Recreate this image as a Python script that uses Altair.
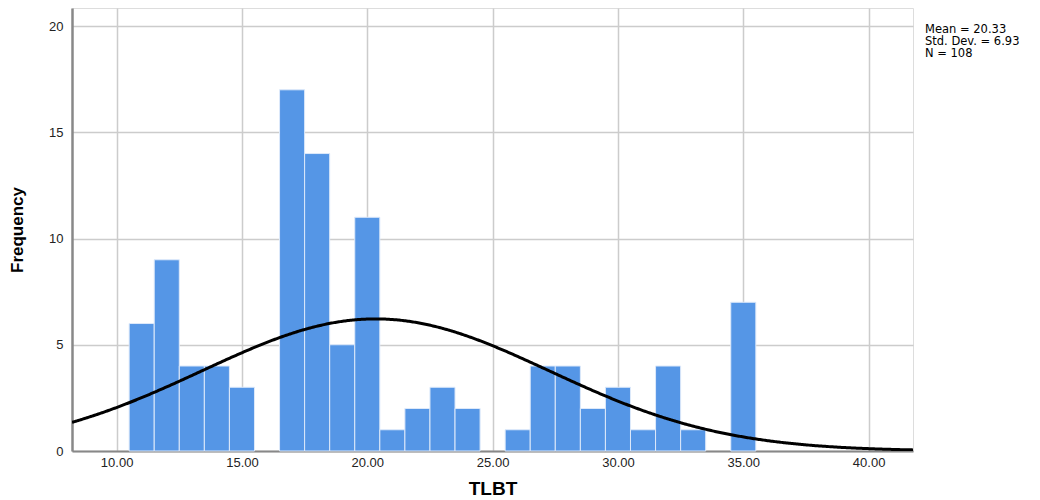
import altair as alt
import pandas as pd

# Histogram bins (centers) and frequencies
bin_centers = [11, 12, 13, 14, 15, 16, 17, 18, 19, 20, 21, 22, 23, 24, 25,
               26, 27, 28, 29, 30, 31, 32, 33, 34, 35]
frequencies = [6, 9, 4, 4, 3, 0, 17, 14, 5, 11, 1, 2, 3, 2, 0,
               1, 4, 4, 2, 3, 1, 4, 1, 0, 7]
stats_lines = ["Mean = 20.33", "Std. Dev. = 6.93", "N = 108"]
mean_val = 20.33
sd_val = 6.93
n_val = 108
x_ticks = [10, 15, 20, 25, 30, 35, 40]
y_ticks = [0, 5, 10, 15, 20]

bars_df = pd.DataFrame({
    "start": [c - 0.5 for c in bin_centers],
    "end": [c + 0.5 for c in bin_centers],
    "count": frequencies,
})
bars_df = bars_df[bars_df["count"] > 0]

X_DOMAIN = [8.22, 41.77]
Y_DOMAIN = [0, 20.85]
W, H = 841, 443

xscale = alt.Scale(domain=X_DOMAIN, nice=False, zero=False)
yscale = alt.Scale(domain=Y_DOMAIN, nice=False)

x_axis = alt.Axis(values=x_ticks, format=".2f", title="TLBT", ticks=False,
                  labelFontSize=13, labelColor="#222222", labelPadding=5,
                  titleFontSize=19, titleFontWeight="bold", titleColor="#000000",
                  titlePadding=10, domainColor="#888888", domainWidth=2,
                  gridColor="#cccccc", gridWidth=1.5, labelFont="Liberation Sans",
                  titleFont="Liberation Sans")
y_axis = alt.Axis(values=y_ticks, format="d", title="Frequency", ticks=False,
                  labelFontSize=13, labelColor="#222222", labelPadding=9,
                  titleFontSize=17, titleFontWeight="bold", titleColor="#000000",
                  titlePadding=22, domainColor="#888888", domainWidth=2.5,
                  gridColor="#cccccc", gridWidth=1.5, labelFont="Liberation Sans",
                  titleFont="Liberation Sans")

bars = alt.Chart(bars_df).mark_rect(
    color="#5596E6", stroke="#DDE9FA", strokeWidth=1
).encode(
    x=alt.X("start:Q", scale=xscale, axis=x_axis),
    x2="end:Q",
    y=alt.Y("count:Q", scale=yscale, axis=y_axis),
    y2=alt.datum(0),
)

curve = alt.Chart(alt.sequence(X_DOMAIN[0], X_DOMAIN[1] + 0.01, 0.05, as_="x")).transform_calculate(
    y=f"{n_val} * densityNormal(datum.x, {mean_val}, {sd_val})"
).mark_line(color="#000000", strokeWidth=3, clip=True).encode(
    x=alt.X("x:Q", scale=xscale),
    y=alt.Y("y:Q", scale=yscale),
)

text_df = pd.DataFrame({"line": stats_lines, "row": [0, 1, 2]})
stats = alt.Chart(text_df).mark_text(
    align="left", baseline="middle", fontSize=11.5, font="DejaVu Sans", color="#000000"
).transform_calculate(
    ypix="22 + datum.row * 12"
).encode(
    x=alt.value(W + 12),
    y=alt.Y("ypix:Q", scale=None),
    text="line:N",
)

chart = alt.layer(bars, curve, stats).properties(
    width=W, height=H,
    autosize=alt.AutoSizeParams(type="none"),
    padding={"left": 64, "top": 0, "right": 119, "bottom": 47},
).configure_view(stroke=None).configure(background="white")

chart.save("out.html", embed_options={"renderer": "svg", "actions": False})
